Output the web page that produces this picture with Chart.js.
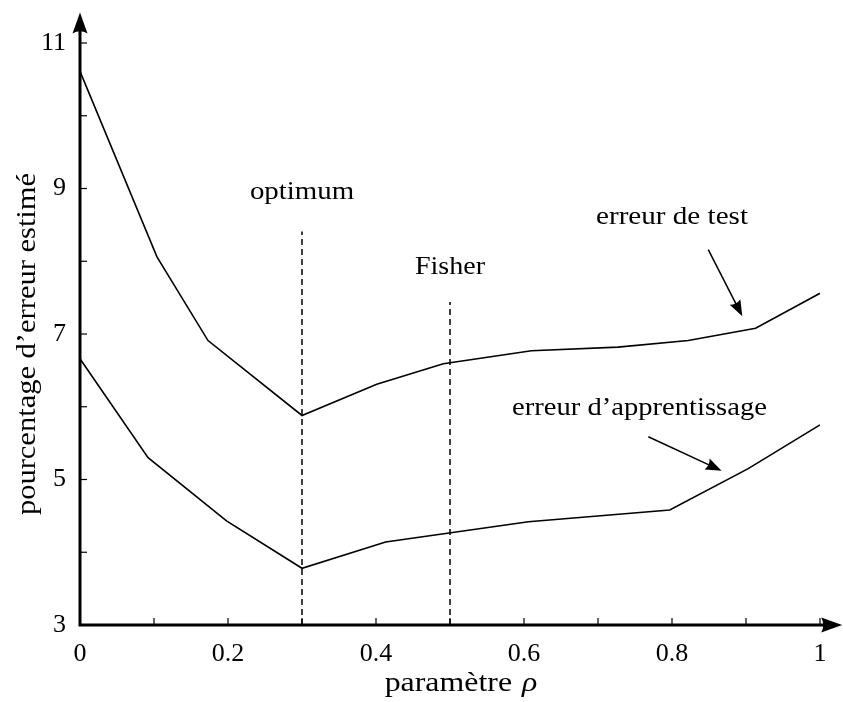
<!DOCTYPE html>
<html>
<head>
<meta charset="utf-8">
<script src="https://cdn.jsdelivr.net/npm/chart.js@4.4.1/dist/chart.umd.min.js"></script>
<style>
  html, body { margin: 0; padding: 0; background: #fff; }
  canvas { display: block; }
</style>
</head>
<body>
<canvas id="errChart" width="843" height="702"></canvas>
<script>
// test error vs rho
const rhoTest = [0, 0.104, 0.173, 0.3, 0.401, 0.491, 0.61, 0.727, 0.822, 0.913, 1.0];
const errTest = [10.61, 8.06, 6.91, 5.88, 6.31, 6.59, 6.77, 6.82, 6.91, 7.08, 7.56];

// training error vs rho
const rhoTrain = [0, 0.092, 0.198, 0.3, 0.413, 0.606, 0.797, 0.903, 1.0];
const errTrain = [6.66, 5.30, 4.43, 3.78, 4.14, 4.42, 4.58, 5.15, 5.75];

// vertical markers: rho value and top of the dashed line
const markerRho = [0.3, 0.5];
const markerTop = [8.41, 7.44];
const markerNames = ['optimum', 'Fisher'];

const xRange = [0, 1];
const yRange = [3, 11];

const FONT = '"Liberation Serif", "Times New Roman", serif';

const toPoints = (xs, ys) => xs.map((x, i) => ({ x: x, y: ys[i] }));

const lineStyle = {
    borderColor: '#000',
    borderWidth: 1.6,
    pointRadius: 0,
    tension: 0,
    fill: false
};

const datasets = [
    Object.assign({ label: 'erreur de test', data: toPoints(rhoTest, errTest) }, lineStyle),
    Object.assign({ label: "erreur d'apprentissage", data: toPoints(rhoTrain, errTrain) }, lineStyle)
];
markerRho.forEach((r, i) => {
    datasets.push({
        label: markerNames[i],
        data: [{ x: r, y: yRange[0] }, { x: r, y: markerTop[i] }],
        borderColor: '#000',
        borderWidth: 1.5,
        borderDash: [6, 4],
        pointRadius: 0
    });
});

function arrowHead(ctx, x1, y1, x2, y2, len, half) {
    const a = Math.atan2(y2 - y1, x2 - x1);
    ctx.save();
    ctx.translate(x2, y2);
    ctx.rotate(a);
    ctx.beginPath();
    ctx.moveTo(0, 0);
    ctx.lineTo(-len, -half);
    ctx.quadraticCurveTo(-len * 0.8, 0, -len, half);
    ctx.closePath();
    ctx.fill();
    ctx.restore();
}

// text drawn a bit wider than the font's natural width
function wideText(ctx, text, x, y, size, stretch, italic) {
    ctx.save();
    ctx.font = (italic ? 'italic ' : '') + size + 'px ' + FONT;
    ctx.translate(x, y);
    ctx.scale(stretch, 1);
    ctx.fillText(text, 0, 0);
    ctx.restore();
}

// axes with arrows, inner ticks, annotations
const decorations = {
    id: 'decorations',
    afterDatasetsDraw(chart) {
        const ctx = chart.ctx;
        const xs = chart.scales.x, ys = chart.scales.y;
        const px = v => xs.getPixelForValue(v);
        const py = v => ys.getPixelForValue(v);
        const x0 = px(xRange[0]), y0 = py(yRange[0]);

        ctx.save();
        ctx.strokeStyle = '#000';
        ctx.fillStyle = '#000';

        // ticks
        ctx.lineWidth = 1.2;
        xs.ticks.forEach(t => {
            if (t.value === xRange[0]) return;
            const p = px(t.value);
            ctx.beginPath(); ctx.moveTo(p, y0); ctx.lineTo(p, y0 - 7); ctx.stroke();
        });
        ys.ticks.forEach(t => {
            if (t.value === yRange[0]) return;
            const p = py(t.value);
            ctx.beginPath(); ctx.moveTo(x0, p); ctx.lineTo(x0 + 7, p); ctx.stroke();
        });

        // axes
        const xEnd = px(1.03), yEnd = py(11.42);
        ctx.lineWidth = 3;
        ctx.beginPath();
        ctx.moveTo(x0, yEnd + 12);
        ctx.lineTo(x0, y0);
        ctx.lineTo(xEnd - 12, y0);
        ctx.stroke();
        arrowHead(ctx, x0, y0, x0, yEnd, 21, 7.5);
        arrowHead(ctx, x0, y0, xEnd, y0, 21, 7.5);

        // pointer arrows to the curves
        const pointers = [
            [0.849, 8.16, 0.895, 7.245],
            [0.768, 5.587, 0.867, 5.12]
        ];
        ctx.lineWidth = 1.5;
        pointers.forEach(a => {
            const ax = px(a[0]), ay = py(a[1]), bx = px(a[2]), by = py(a[3]);
            const ang = Math.atan2(by - ay, bx - ax);
            ctx.beginPath();
            ctx.moveTo(ax, ay);
            ctx.lineTo(bx - 8 * Math.cos(ang), by - 8 * Math.sin(ang));
            ctx.stroke();
            arrowHead(ctx, ax, ay, bx, by, 16, 6);
        });

        // text labels
        ctx.textAlign = 'center';
        ctx.textBaseline = 'middle';
        wideText(ctx, 'optimum', px(0.3), py(8.95), 26, 1.11);
        wideText(ctx, 'Fisher', px(0.5), py(7.92), 26, 1.08);
        wideText(ctx, 'erreur de test', px(0.8), py(8.61), 26, 1.12);
        wideText(ctx, 'erreur d\u2019apprentissage', px(0.756), py(5.98), 26, 1.10);

        // axis titles
        ctx.save();
        ctx.translate(28, 344);
        ctx.rotate(-Math.PI / 2);
        wideText(ctx, 'pourcentage d\u2019erreur estim\u00e9', 0, 0, 27, 1.13);
        ctx.restore();

        const stretch = 1.18;
        ctx.font = '27px ' + FONT;
        const w1 = ctx.measureText('param\u00e8tre').width * stretch;
        ctx.font = 'italic 27px ' + FONT;
        const w2 = ctx.measureText('\u03c1').width * stretch;
        const gap = 10;
        const left = 461 - (w1 + gap + w2) / 2;
        ctx.textAlign = 'left';
        wideText(ctx, 'param\u00e8tre', left, 684, 27, stretch);
        wideText(ctx, '\u03c1', left + w1 + gap, 684, 27, stretch, true);

        ctx.restore();
    }
};

new Chart(document.getElementById('errChart'), {
    type: 'line',
    data: { datasets: datasets },
    options: {
        responsive: false,
        animation: false,
        devicePixelRatio: 1,
        layout: { padding: { left: 0, right: 23, top: 43, bottom: 0 } },
        plugins: {
            legend: { display: false },
            tooltip: { enabled: false }
        },
        scales: {
            x: {
                type: 'linear',
                min: xRange[0],
                max: xRange[1],
                grid: { display: false, drawTicks: false },
                border: { display: false },
                afterFit: s => { s.height = 77; },
                ticks: {
                    stepSize: 0.1,
                    autoSkip: false,
                    maxRotation: 0,
                    padding: 14,
                    color: '#000',
                    font: { family: FONT, size: 26 },
                    callback: v => {
                        const k = Math.round(v * 10);
                        return k % 2 === 0 ? String(k / 10) : '';
                    }
                }
            },
            y: {
                type: 'linear',
                min: yRange[0],
                max: yRange[1],
                grid: { display: false, drawTicks: false },
                border: { display: false },
                afterFit: s => { s.width = 80; },
                ticks: {
                    stepSize: 1,
                    autoSkip: false,
                    padding: 14,
                    color: '#000',
                    font: { family: FONT, size: 26 },
                    callback: v => (Math.round(v) % 2 === 1 ? String(v) : '')
                }
            }
        }
    },
    plugins: [decorations]
});
</script>
</body>
</html>
